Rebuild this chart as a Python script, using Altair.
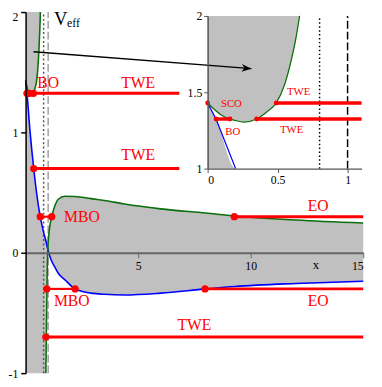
import altair as alt
import pandas as pd

SERIF = "Liberation Serif"

# ---------------- data ----------------
# axis domains
X_MAIN = [0, 15]
Y_MAIN = [-1, 2]
X_INS = [0, 1.1]
Y_INS = [1, 2]

# blue curve, left part
X_LEFT = [0.0, 0.06, 0.2, 0.36, 0.5, 0.65, 0.8]
BLUE_LEFT = [1.43, 1.325, 1.0, 0.70, 0.48, 0.30, 0.17]
# blue and green curves sampled at the same x (right of the pole)
X_RIGHT = [0.9, 0.93, 0.96, 0.98, 1.0, 1.06, 1.16, 1.3, 1.45, 1.75, 2.2, 2.9,
           3.5, 4.4, 6.0, 8.0, 9.3, 12.0, 15.0]
BLUE_RIGHT = [0.10, 0.075, 0.05, 0.035, 0.02, -0.02, -0.07, -0.12, -0.17, -0.225,
              -0.30, -0.335, -0.345, -0.35, -0.335, -0.30, -0.28, -0.255, -0.236]
GREEN_RIGHT = [-1.0, -0.55, -0.15, 0.0, 0.08, 0.2, 0.30, 0.39, 0.445, 0.47, 0.468,
               0.45, 0.435, 0.405, 0.365, 0.33, 0.306, 0.272, 0.247]
# upper green branch
X_UP = [0.0, 0.1, 0.2, 0.26, 0.35, 0.42, 0.49, 0.55, 0.6, 0.63, 0.657]
GREEN_UP = [1.43, 1.35, 1.315, 1.305, 1.325, 1.37, 1.43, 1.55, 1.72, 1.85, 2.0]

# vertical reference lines (dotted, dashed)
VLINE_X = [0.8, 1.0]

# main plot orbit segments
SEG_KIND = ["BO", "TWE", "TWE", "MBO", "EO", "MBO", "EO", "TWE"]
SEG_Y = [1.325, 1.325, 0.70, 0.30, 0.30, -0.30, -0.30, -0.70]
SEG_X1 = [0.06, 0.35, 0.36, 0.65, 9.27, 0.94, 7.97, 0.90]
SEG_X2 = [0.16, 15.0, 15.0, 1.16, 15.0, 2.2, 15.0, 15.0]
DOT_X = [0.06, 0.16, 0.35, 0.36, 0.65, 1.16, 9.27, 0.94, 2.2, 7.97, 0.90]
DOT_Y = [1.325, 1.325, 1.325, 0.70, 0.30, 0.30, 0.30, -0.30, -0.30, -0.30, -0.70]
LAB_TEXT = ["BO", "TWE", "TWE", "MBO", "EO", "MBO", "EO", "TWE"]
LAB_X = [1.0, 5.0, 5.0, 2.5, 13.0, 2.05, 13.0, 7.5]
LAB_Y = [1.41, 1.41, 0.815, 0.30, 0.39, -0.405, -0.405, -0.60]

# inset
INS_SEG_Y = [1.43, 1.325, 1.325]
INS_SEG_X1 = [0.49, 0.06, 0.35]
INS_SEG_X2 = [1.1, 0.16, 1.1]
INS_DOT_X = [0.0, 0.49, 0.06, 0.16, 0.35]
INS_DOT_Y = [1.43, 1.43, 1.325, 1.325, 1.325]
INS_LAB_TEXT = ["SCO", "TWE", "BO", "TWE"]
INS_LAB_X = [0.17, 0.65, 0.18, 0.60]
INS_LAB_Y = [1.425, 1.5, 1.24, 1.25]

# arrow (main coordinates)
ARROW_X = [0.35, 10.03]
ARROW_Y = [1.67, 1.53]

# title text
VEFF = [("V", 1.26, 1.89), ("eff", 1.84, 1.875)]
X_TITLE = ("x", 12.9, -0.105)

# ---------------- tables ----------------
df_left = pd.DataFrame({"x": X_LEFT + [X_RIGHT[0]], "y": BLUE_LEFT + [BLUE_RIGHT[0]],
                        "y2": [Y_MAIN[0]] * (len(X_LEFT) + 1)})
df_right = pd.DataFrame({"x": X_RIGHT, "blue": BLUE_RIGHT, "green": GREEN_RIGHT})
df_up = pd.DataFrame({"x": X_UP, "y": GREEN_UP, "y2": [Y_MAIN[1]] * len(X_UP)})
df_blue = pd.DataFrame({"x": X_LEFT + X_RIGHT, "y": BLUE_LEFT + BLUE_RIGHT})
df_vl = pd.DataFrame({"x": VLINE_X, "y": [Y_MAIN[0]] * 2, "y2": [Y_MAIN[1]] * 2,
                      "kind": ["dot", "dash"]})
df_vl_ins = pd.DataFrame({"x": VLINE_X, "y": [Y_INS[0]] * 2, "y2": [Y_INS[1]] * 2,
                          "kind": ["dot", "dash"]})
df_seg = pd.DataFrame({"kind": SEG_KIND, "y": SEG_Y, "x": SEG_X1, "x2": SEG_X2})
df_dot = pd.DataFrame({"x": DOT_X, "y": DOT_Y})
df_lab = pd.DataFrame({"t": LAB_TEXT, "x": LAB_X, "y": LAB_Y})
df_iseg = pd.DataFrame({"y": INS_SEG_Y, "x": INS_SEG_X1, "x2": INS_SEG_X2})
df_idot = pd.DataFrame({"x": INS_DOT_X, "y": INS_DOT_Y})
df_ilab = pd.DataFrame({"t": INS_LAB_TEXT, "x": INS_LAB_X, "y": INS_LAB_Y})
df_arrow = pd.DataFrame({"x": ARROW_X, "y": ARROW_Y, "i": [0, 1]})
df_veff = pd.DataFrame({"t": [v[0] for v in VEFF], "x": [v[1] for v in VEFF],
                        "y": [v[2] for v in VEFF]})
df_xt = pd.DataFrame({"t": [X_TITLE[0]], "x": [X_TITLE[1]], "y": [X_TITLE[2]]})

# ---------------- scales & axes ----------------
W, H = 374, 379
MX_RANGE = [18, 363]
MY_RANGE = [369, 0]
IX_RANGE = [204, 361.3]
IY_RANGE = [160, 4]

mxs = alt.Scale(domain=X_MAIN, range=MX_RANGE, nice=False, zero=False)
mys = alt.Scale(domain=Y_MAIN, range=MY_RANGE, nice=False, zero=False)
ixs = alt.Scale(domain=X_INS, range=IX_RANGE, nice=False, zero=False, clamp=True)
iys = alt.Scale(domain=Y_INS, range=IY_RANGE, nice=False, zero=False, clamp=True)

y0_px = MY_RANGE[0] + (MY_RANGE[1] - MY_RANGE[0]) * (0 - Y_MAIN[0]) / (Y_MAIN[1] - Y_MAIN[0])

mxa = alt.Axis(values=[5, 10, 15], orient="bottom", offset=y0_px - H, title=None,
               grid=False, domainColor="#666", domainWidth=2, tickColor="#666",
               tickSize=5, labelFont=SERIF, labelFontSize=12, labelColor="black",
               labelPadding=3, zindex=1)
mya = alt.Axis(values=[-1, 0, 1, 2], orient="left", offset=-MX_RANGE[0], title=None,
               grid=False, domainColor="black", domainWidth=1.5, tickColor="black",
               tickWidth=1.5, tickSize=5, labelFont=SERIF, labelFontSize=12,
               labelColor="black", labelPadding=3, labelExpr="'' + datum.value",
               labelBaseline={"condition": {"test": "datum.value == 2", "value": "top"},
                              "value": "middle"},
               zindex=1)
ixa = alt.Axis(values=[0, 0.5, 1], orient="bottom", offset=IY_RANGE[0] - H, title=None,
               grid=False, domainColor="#555", domainWidth=1.5, tickColor="#555",
               tickSize=4, labelFont=SERIF, labelFontSize=12, labelColor="black",
               labelPadding=2, format="~g", zindex=1)
iya = alt.Axis(values=[1, 1.5, 2], orient="left", offset=-IX_RANGE[0], title=None,
               grid=False, domainColor="#555", domainWidth=1.5, tickColor="#555",
               tickSize=4, labelFont=SERIF, labelFontSize=12, labelColor="black",
               labelPadding=2, format="~g", zindex=1)


def MX(f="x"):
    return alt.X(f"{f}:Q", scale=mxs, axis=mxa)


def MY(f="y"):
    return alt.Y(f"{f}:Q", scale=mys, axis=mya)


def IX(f="x"):
    return alt.X(f"{f}:Q", scale=ixs, axis=ixa)


def IY(f="y"):
    return alt.Y(f"{f}:Q", scale=iys, axis=iya)


GRAY = "#c0c0c0"
BLUE = "#0000ff"
GREEN = "#0b6e0b"
RED = "#ff0000"

# ---------------- main plot ----------------
m_area1 = alt.Chart(df_left).mark_area(color=GRAY, opacity=1, interpolate="monotone").encode(
    x=MX(), y=MY(), y2="y2:Q")
m_area2 = alt.Chart(df_right).mark_area(color=GRAY, opacity=1, interpolate="monotone").encode(
    x=MX(), y=MY("blue"), y2="green:Q")
m_area3 = alt.Chart(df_up).mark_area(color=GRAY, opacity=1, interpolate="monotone").encode(
    x=MX(), y=MY(), y2="y2:Q")
m_dot = alt.Chart(df_vl).transform_filter("datum.kind == 'dot'").mark_rule(
    color="#555", strokeWidth=1.5, strokeDash=[2, 2.5]).encode(x=MX(), y=MY(), y2="y2:Q")
m_dash = alt.Chart(df_vl).transform_filter("datum.kind == 'dash'").mark_rule(
    color="#888", strokeWidth=1.2, strokeDash=[8, 3]).encode(x=MX(), y=MY(), y2="y2:Q")
m_blue = alt.Chart(df_blue).mark_line(color=BLUE, strokeWidth=1.6, interpolate="monotone").encode(
    x=MX(), y=MY())
m_green_lo = alt.Chart(df_right).mark_line(color=GREEN, strokeWidth=1.6, interpolate="monotone").encode(
    x=MX(), y=MY("green"))
m_green_up = alt.Chart(df_up).mark_line(color=GREEN, strokeWidth=1.6, interpolate="monotone").encode(
    x=MX(), y=MY())
m_seg = alt.Chart(df_seg).transform_filter("datum.kind != 'MBO'").mark_rule(
    color=RED, strokeWidth=3).encode(x=MX(), x2="x2:Q", y=MY())
m_seg_mbo = alt.Chart(df_seg).transform_filter("datum.kind == 'MBO'").mark_rule(
    color=RED, strokeWidth=2.2).encode(x=MX(), x2="x2:Q", y=MY())
m_dots = alt.Chart(df_dot).mark_circle(color=RED, size=55, opacity=1).encode(x=MX(), y=MY())
m_labs = alt.Chart(df_lab).mark_text(color=RED, font=SERIF, fontSize=16, align="center",
                                     baseline="middle").encode(x=MX(), y=MY(), text="t:N")
m_V = alt.Chart(df_veff).transform_filter("datum.t == 'V'").mark_text(
    color="black", font=SERIF, fontSize=19, align="left", baseline="alphabetic").encode(
    x=MX(), y=MY(), text="t:N")
m_eff = alt.Chart(df_veff).transform_filter("datum.t == 'eff'").mark_text(
    color="black", font=SERIF, fontSize=12, align="left", baseline="alphabetic").encode(
    x=MX(), y=MY(), text="t:N")
m_xt = alt.Chart(df_xt).mark_text(color="black", font=SERIF, fontSize=13, align="center",
                                  baseline="middle").encode(x=MX(), y=MY(), text="t:N")

main = alt.layer(m_area1, m_area2, m_area3, m_dot, m_dash, m_blue, m_green_lo, m_green_up,
                 m_seg, m_seg_mbo, m_dots, m_labs, m_V, m_eff, m_xt)

# ---------------- inset ----------------
panel = alt.Chart(pd.DataFrame({"a": [0]})).mark_rect(color="white", opacity=1).encode(
    x=alt.value(175), x2=alt.value(W), y=alt.value(0), y2=alt.value(177))
i_area1 = alt.Chart(df_left).mark_area(color=GRAY, opacity=1, interpolate="monotone").encode(
    x=IX(), y=IY(), y2="y2:Q")
i_area3 = alt.Chart(df_up).mark_area(color=GRAY, opacity=1, interpolate="monotone").encode(
    x=IX(), y=IY(), y2="y2:Q")
i_dot = alt.Chart(df_vl_ins).transform_filter("datum.kind == 'dot'").mark_rule(
    color="black", strokeWidth=1.5, strokeDash=[1.5, 2.5]).encode(x=IX(), y=IY(), y2="y2:Q")
i_dash = alt.Chart(df_vl_ins).transform_filter("datum.kind == 'dash'").mark_rule(
    color="black", strokeWidth=1.5, strokeDash=[8, 3]).encode(x=IX(), y=IY(), y2="y2:Q")
i_blue = alt.Chart(df_blue).transform_filter("datum.y >= 0.99").mark_line(
    color=BLUE, strokeWidth=1.3).encode(x=IX(), y=IY())
i_green = alt.Chart(df_up).mark_line(color=GREEN, strokeWidth=1.3, interpolate="monotone").encode(
    x=IX(), y=IY())
i_seg = alt.Chart(df_iseg).mark_rule(color=RED, strokeWidth=3.5).encode(
    x=IX(), x2="x2:Q", y=IY())
i_dots = alt.Chart(df_idot).mark_circle(color=RED, size=24, opacity=1).encode(x=IX(), y=IY())
i_labs = alt.Chart(df_ilab).mark_text(color=RED, font=SERIF, fontSize=11, align="center",
                                      baseline="middle").encode(x=IX(), y=IY(), text="t:N")

inset = alt.layer(panel, i_area1, i_area3, i_dot, i_dash, i_blue, i_green, i_seg, i_dots, i_labs)

# ---------------- arrow overlay ----------------
oxs = alt.Scale(domain=X_MAIN, range=MX_RANGE, nice=False, zero=False)
oys = alt.Scale(domain=Y_MAIN, range=MY_RANGE, nice=False, zero=False)
a_line = alt.Chart(df_arrow).mark_line(color="black", strokeWidth=1.5).encode(
    x=alt.X("x:Q", scale=oxs, axis=None), y=alt.Y("y:Q", scale=oys, axis=None))
a_head = alt.Chart(df_arrow).transform_filter("datum.i == 1").mark_point(
    shape="M0,0 L-1,-0.4 L-0.7,0 L-1,0.4 Z", filled=True, color="black", opacity=1,
    size=400, angle=4.4).encode(
    x=alt.X("x:Q", scale=oxs, axis=None), y=alt.Y("y:Q", scale=oys, axis=None))
overlay = alt.layer(a_line, a_head)

chart = alt.layer(main, inset, overlay).resolve_scale(
    x="independent", y="independent").properties(
    width=W, height=H, autosize=alt.AutoSizeParams(type="none"), padding=0,
    background="white").configure_view(stroke=None).configure_axis(
    labelFont=SERIF, labelFontSize=12, labelColor="black")

chart.save("out.html", embed_options={"renderer": "svg", "actions": False})
